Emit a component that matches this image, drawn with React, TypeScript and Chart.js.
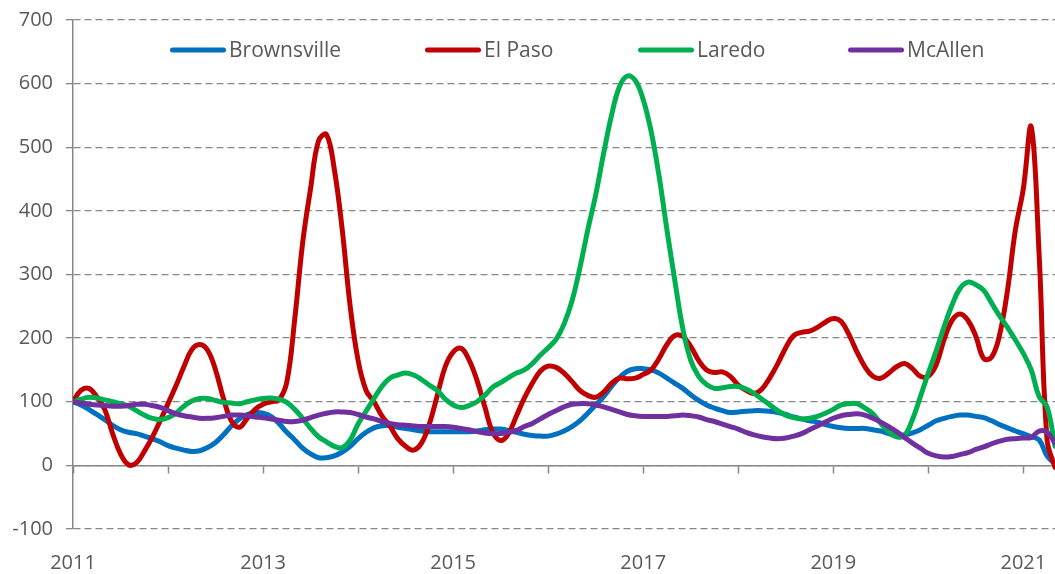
import { useEffect, useRef } from 'react';
import { Chart, registerables } from 'chart.js';

Chart.register(...registerables);

// Monthly observations, January 2011 through May 2021
const firstYear = 2011;
const months: number[] = Array.from({ length: 125 }, (_, i) => firstYear + i / 12);

const seriesNames = ['Brownsville', 'El Paso', 'Laredo', 'McAllen'];

const brownsville = [
  100, 95, 88, 80, 72, 63, 56, 52, 50, 46,
  42, 37, 31, 27, 24, 22, 23, 28, 36, 48,
  62, 73, 80, 83, 82, 77, 66, 52, 40, 27,
  18, 12, 12, 15, 21, 30, 42, 52, 59, 62,
  63, 60, 58, 56, 54, 53, 53, 53, 53, 53,
  53, 54, 56, 57, 57, 55, 52, 49, 47, 46,
  46, 49, 54, 61, 70, 82, 95, 108, 124, 138,
  148, 152, 152, 150, 145, 137, 129, 121, 111, 102,
  95, 90, 86, 83, 84, 85, 86, 86, 85, 83,
  80, 76, 73, 70, 68, 64, 61, 59, 58, 58,
  58, 56, 54, 50, 47, 48, 51, 56, 63, 70,
  74, 77, 79, 79, 77, 75, 70, 64, 59, 54,
  50, 45, 40, 15, 2,
];

const elPaso = [
  100, 118, 121, 108, 88, 50, 18, 1, 4, 22,
  44, 70, 97, 125, 155, 182, 190, 181, 150, 105,
  70, 60, 74, 88, 96, 100, 103, 131, 230, 350,
  435, 510, 520, 465, 370, 250, 165, 118, 100, 78,
  62, 42, 30, 24, 35, 65, 110, 155, 178, 184,
  166, 134, 92, 52, 39, 50, 78, 106, 129, 148,
  156, 154, 145, 132, 118, 110, 107, 115, 129, 137,
  136, 137, 143, 150, 168, 190, 204, 203, 187, 165,
  150, 146, 147, 140, 126, 118, 113, 120, 138, 160,
  185, 204, 209, 211, 217, 225, 231, 226, 205, 178,
  155, 140, 137, 145, 155, 160, 152, 140, 140, 158,
  198, 228, 238, 228, 203, 168, 170, 205, 275, 370,
  435, 532, 330, 40, -3,
];

const laredo = [
  100, 104, 107, 106, 103, 100, 97, 93, 86, 79,
  74, 72, 75, 82, 93, 101, 105, 105, 102, 99,
  98, 97, 100, 103, 105, 106, 104, 99, 88, 74,
  58, 45, 37, 30, 28, 40, 65, 85, 105, 124,
  137, 142, 145, 142, 135, 126, 118, 104, 95, 91,
  94, 100, 110, 123, 130, 138, 145, 150, 160, 173,
  185, 198, 222, 258, 310, 370, 425, 490, 550, 595,
  612, 605, 575, 525, 455, 370, 290, 215, 165, 140,
  127, 121, 122, 124, 124, 120, 113, 104, 95, 86,
  79, 75, 73, 74, 77, 82, 88, 95, 97, 97,
  90, 81, 66, 53, 45, 47, 72, 108, 145, 180,
  218, 252, 278, 288, 284, 275, 255, 235, 217, 197,
  176, 150, 108, 92, 30,
];

const mcallen = [
  100, 98, 96, 95, 94, 93, 93, 94, 96, 96,
  94, 91, 86, 81, 78, 76, 74, 74, 75, 77,
  79, 79, 78, 76, 75, 73, 71, 69, 69, 71,
  75, 79, 82, 84, 84, 83, 80, 76, 73, 69,
  66, 64, 63, 62, 61, 61, 61, 61, 60, 58,
  56, 53, 51, 50, 50, 52, 55, 61, 66, 73,
  80, 86, 92, 96, 97, 97, 95, 92, 88, 84,
  80, 78, 77, 77, 77, 77, 78, 79, 78, 76,
  72, 69, 65, 61, 57, 52, 48, 45, 43, 42,
  43, 46, 50, 56, 62, 68, 74, 78, 80, 81,
  79, 74, 68, 61, 53, 44, 35, 27, 19, 15,
  13, 14, 17, 20, 25, 29, 34, 38, 41, 42,
  43, 44, 54, 52, 35,
];

const seriesValues = [brownsville, elPaso, laredo, mcallen];
const seriesColors = ['#0070C0', '#C00000', '#00B050', '#7030A0'];

const yMin = -100;
const yMax = 700;
const yStep = 100;

const GRID = '#878787';
const TEXT = '#595959';
const FONT_FAMILY = '"Open Sans", "Noto Sans", sans-serif';

// legend placement (styling only)
const LEGEND_X = [170, 425, 638, 848];
const LEGEND_Y = 50;
const LEGEND_LINE = 56;

const insideLegend = {
  id: 'insideLegend',
  afterDraw(chart: any) {
    const ctx = chart.ctx as CanvasRenderingContext2D;
    ctx.save();
    chart.data.datasets.forEach((ds: any, i: number) => {
      const x0 = LEGEND_X[i];
      ctx.strokeStyle = ds.borderColor;
      ctx.lineWidth = 5;
      ctx.lineCap = 'round';
      ctx.beginPath();
      ctx.moveTo(x0 + 2.5, LEGEND_Y);
      ctx.lineTo(x0 + LEGEND_LINE - 2.5, LEGEND_Y);
      ctx.stroke();
      ctx.fillStyle = TEXT;
      ctx.font = `21px ${FONT_FAMILY}`;
      ctx.textAlign = 'left';
      ctx.textBaseline = 'middle';
      ctx.fillText(ds.label, x0 + LEGEND_LINE + 3, LEGEND_Y + 1);
    });
    ctx.restore();
  },
};

export default function App() {
  const canvasRef = useRef<HTMLCanvasElement | null>(null);

  useEffect(() => {
    if (!canvasRef.current) return;
    const xMin = months[0];
    const xMax = months[months.length - 1];
    const chart = new Chart(canvasRef.current, {
      type: 'line',
      data: {
        datasets: seriesNames.map((name, i) => ({
          label: name,
          data: seriesValues[i].map((v, j) => ({ x: months[j], y: v })),
          borderColor: seriesColors[i],
          backgroundColor: seriesColors[i],
          borderWidth: 5,
          pointRadius: 0,
          pointHoverRadius: 0,
          tension: 0.4,
          fill: false,
          borderJoinStyle: 'round' as const,
          borderCapStyle: 'round' as const,
          order: seriesNames.length - i,
        })),
      },
      options: {
        animation: false,
        responsive: true,
        maintainAspectRatio: false,
        layout: { padding: { top: 20, left: 0, right: 0, bottom: 0 } },
        plugins: {
          legend: { display: false },
          tooltip: { enabled: false },
        },
        scales: {
          x: {
            type: 'linear',
            position: { y: 0 } as any,
            min: xMin,
            max: xMax,
            ticks: { display: false, stepSize: 1, includeBounds: false, autoSkip: false },
            grid: {
              display: true,
              drawOnChartArea: false,
              drawTicks: true,
              tickLength: 7,
              tickColor: GRID,
              tickWidth: 1.5,
            },
            border: { display: true, color: GRID, width: 1.5 },
          },
          xLabels: {
            type: 'linear',
            position: 'bottom',
            min: xMin,
            max: xMax,
            ticks: {
              stepSize: 1,
              includeBounds: false,
              autoSkip: false,
              maxRotation: 0,
              minRotation: 0,
              padding: 22,
              color: TEXT,
              font: { family: FONT_FAMILY, size: 20 },
              callback: (v: any) => ((Number(v) - firstYear) % 2 === 0 ? String(v) : ''),
            },
            grid: { display: false, drawTicks: false },
            border: { display: false },
            afterFit: (s: any) => {
              s.height = 45;
              s.paddingLeft = 0;
              s.paddingRight = 0;
            },
          },
          y: {
            type: 'linear',
            min: yMin,
            max: yMax,
            ticks: {
              stepSize: yStep,
              padding: 13,
              color: TEXT,
              font: { family: FONT_FAMILY, size: 20 },
            },
            grid: {
              color: GRID,
              lineWidth: 1.3,
              drawTicks: true,
              tickLength: 7,
              tickColor: GRID,
              tickWidth: 1.3,
            },
            border: { display: true, color: GRID, width: 1.5, dash: [7, 4] },
            afterFit: (s: any) => {
              s.width = 73;
              s.paddingTop = 0;
              s.paddingBottom = 0;
            },
          },
        },
      } as any,
      plugins: [insideLegend],
    });
    return () => chart.destroy();
  }, []);

  return (
    <div style={{ position: 'absolute', left: 0, top: 0, width: 1055, height: 574, background: '#fff' }}>
      <canvas ref={canvasRef} />
    </div>
  );
}
